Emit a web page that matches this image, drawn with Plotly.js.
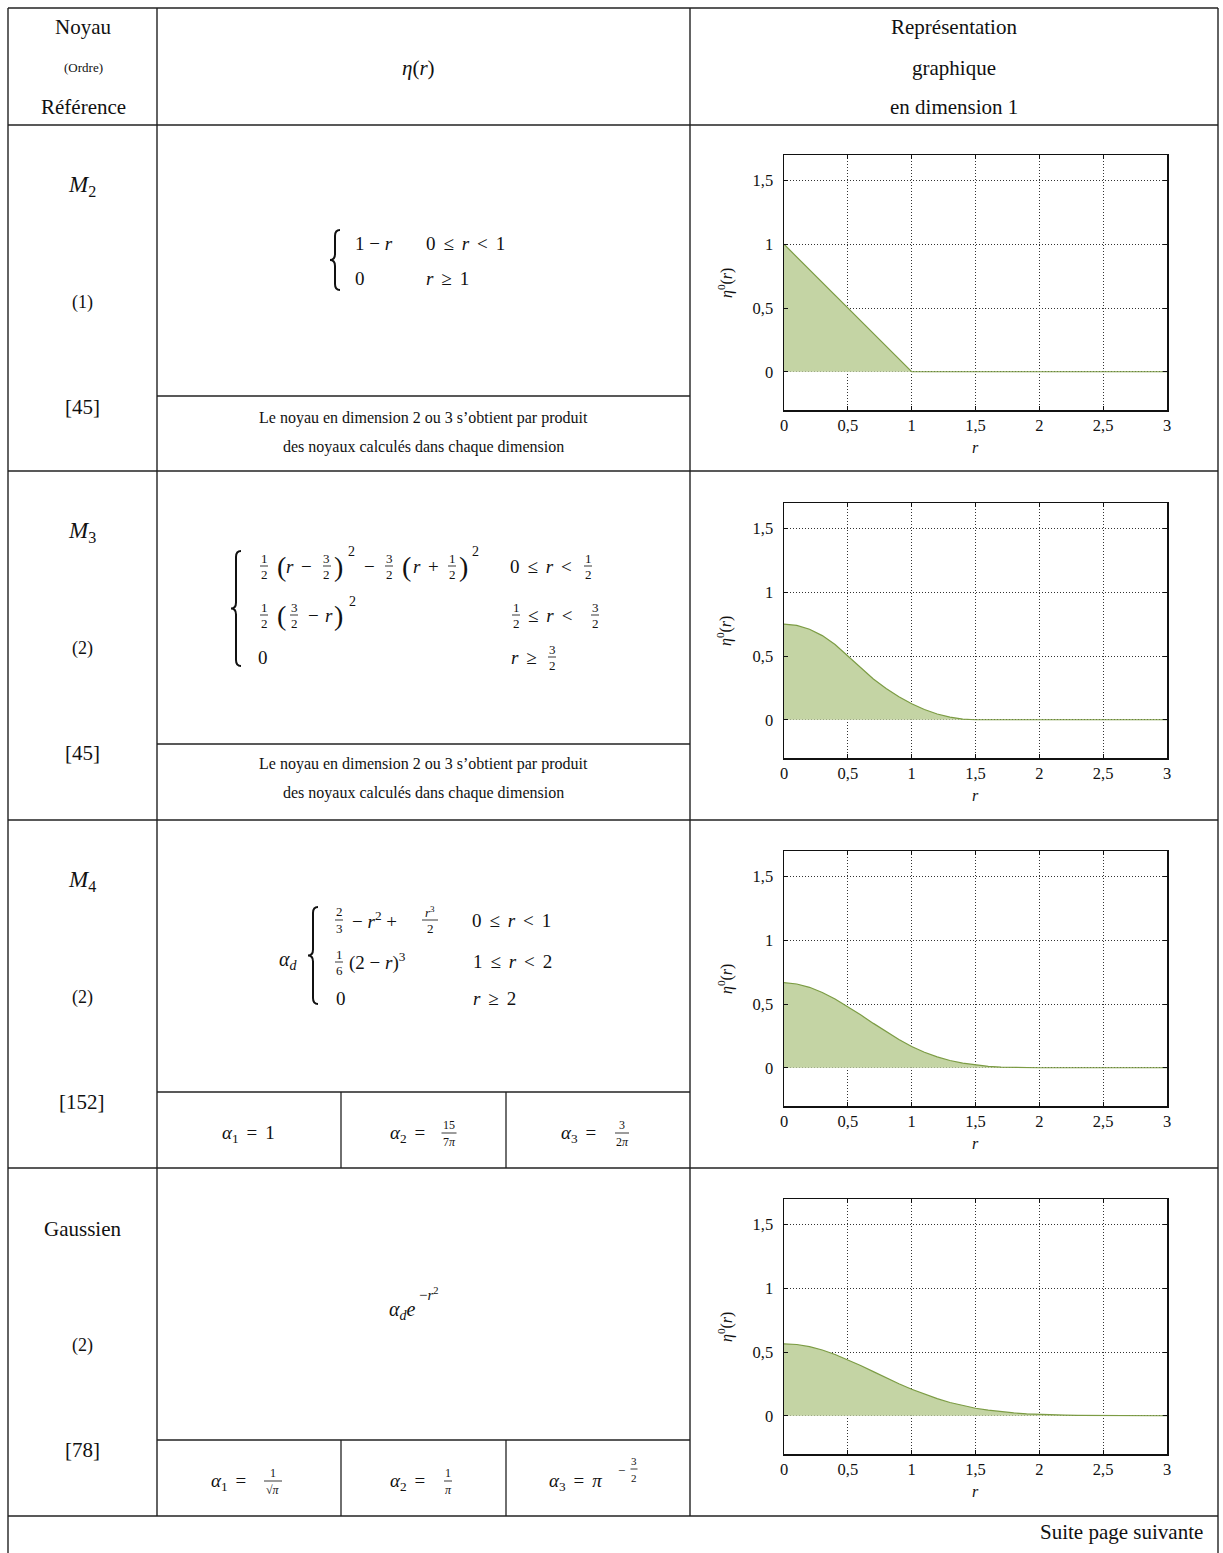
<!DOCTYPE html>
<html><head><meta charset="utf-8">
<script src="https://cdn.plot.ly/plotly-3.0.1.min.js"></script>
<style>html,body{margin:0;padding:0;background:#fff}</style>
</head><body><div id="chart" style="width:1223px;height:1553px"></div>
<script>
// ---- data ----
const r_M2 = [0, 1, 3];
const eta_M2 = [1, 0, 0];

const r_M3 = [0,0.1,0.2,0.3,0.4,0.5,0.6,0.7,0.8,0.9,1.0,1.1,1.2,1.3,1.4,1.5,3];
const eta_M3 = [0.75,0.74,0.71,0.66,0.59,0.5,0.405,0.32,0.245,0.18,0.125,0.08,0.045,0.02,0.005,0,0];

const r_M4 = [0,0.1,0.2,0.3,0.4,0.5,0.6,0.7,0.8,0.9,1.0,1.1,1.2,1.3,1.4,1.5,1.6,1.7,1.8,1.9,2.0,3];
const eta_M4 = [0.667,0.657,0.631,0.590,0.539,0.479,0.415,0.348,0.283,0.221,0.167,0.122,0.085,0.057,0.036,0.021,0.011,0.0045,0.0013,0.0002,0,0];

const r_G = [0,0.1,0.2,0.3,0.4,0.5,0.6,0.7,0.8,0.9,1.0,1.1,1.2,1.3,1.4,1.5,1.6,1.7,1.8,1.9,2.0,2.1,2.2,2.3,2.4,2.5,2.6,2.7,2.8,2.9,3.0];
const eta_G = [0.564,0.559,0.542,0.516,0.480,0.439,0.394,0.346,0.297,0.251,0.208,0.168,0.134,0.104,0.079,0.059,0.044,0.031,0.022,0.015,0.010,0.007,0.0045,0.0029,0.0018,0.0011,0.0007,0.0004,0.0002,0.0001,0.0001];

const xTickVals = [0,0.5,1,1.5,2,2.5,3];
const xTickText = ['0','0,5','1','1,5','2','2,5','3'];
const yTickVals = [0,0.5,1,1.5];
const yTickText = ['0','0,5','1','1,5'];

const kernelNames = ['<i>M</i><sub>2</sub>','<i>M</i><sub>3</sub>','<i>M</i><sub>4</sub>','Gaussien'];
const kernelOrders = ['(1)','(2)','(2)','(2)'];
const kernelRefs = ['[45]','[45]','[152]','[78]'];
const noteLines = ['Le noyau en dimension 2 ou 3 s’obtient par produit','des noyaux calculés dans chaque dimension'];

// ---- helpers ----
const W = 1223, H = 1553;
const SERIF = 'Liberation Serif, Times New Roman, serif';
const S = ' \u2006';           // relation spacing
const ann = [], shp = [];
function T(x, y, text, size, xa, extra) {
  ann.push(Object.assign({x: x / W, y: 1 - y / H, xref: 'paper', yref: 'paper', text: text, showarrow: false,
    xanchor: xa || 'center', yanchor: 'middle', font: {family: SERIF, size: size, color: '#111'}}, extra || {}));
}
function L(x0, y0, x1, y1, w) {
  shp.push({type: 'line', xref: 'paper', yref: 'paper', x0: x0 / W, y0: 1 - y0 / H, x1: x1 / W, y1: 1 - y1 / H,
    line: {color: '#222', width: w || 1.3}});
}
function F(xc, yc, num, den, size, w) {
  size = size || 13; w = w || 8;
  T(xc, yc - 8, num, size); T(xc, yc + 8.5, den, size);
  L(xc - w / 2, yc, xc + w / 2, yc, 0.9);
}
function P(X, Y) { return (X / W).toFixed(5) + ',' + (1 - Y / H).toFixed(5); }
function B(x, y0, y1) {
  const ym = (y0 + y1) / 2;
  const d = 'M' + P(x + 5, y0) + ' Q' + P(x, y0) + ' ' + P(x, y0 + 6) + ' L' + P(x, ym - 6) +
    ' Q' + P(x, ym) + ' ' + P(x - 5, ym) + ' Q' + P(x, ym) + ' ' + P(x, ym + 6) +
    ' L' + P(x, y1 - 6) + ' Q' + P(x, y1) + ' ' + P(x + 5, y1);
  shp.push({type: 'path', xref: 'paper', yref: 'paper', path: d, line: {color: '#111', width: 2}});
}
const MS = 19;   // math size

// ---- table grid ----
const XL = 8, XC1 = 157, XC2 = 690, XR = 1218;
const rowLines = [8, 125, 471, 820, 1168, 1516];
rowLines.forEach(y => L(XL, y, XR, y, 1.4));
L(XL, 8, XL, 1553, 1.4); L(XR, 8, XR, 1553, 1.4);
L(XC1, 8, XC1, 1516, 1.4); L(XC2, 8, XC2, 1516, 1.4);
[396, 744, 1092, 1440].forEach(y => L(XC1, y, XC2, y, 1.3));
[[1092, 1168], [1440, 1516]].forEach(p => { L(341, p[0], 341, p[1], 1.3); L(506, p[0], 506, p[1], 1.3); });

// ---- header ----
T(83, 27, 'Noyau', 21); T(83, 68, '(Ordre)', 13); T(83, 107, 'Référence', 21);
T(418, 68, '<i>η</i>(<i>r</i>)', 21);
T(954, 27, 'Représentation', 21); T(954, 68, 'graphique', 21); T(954, 107, 'en dimension 1', 21);

// ---- left column ----
const rowTop = [125, 471, 820, 1168];
rowTop.forEach((t, i) => {
  T(82, t + 61, kernelNames[i], i === 3 ? 21 : 23);
  T(82, t + 177, kernelOrders[i], 18);
  T(82, t + 282, kernelRefs[i], 21);
});
[0, 1].forEach(i => {
  T(423, rowTop[i] + 293, noteLines[0], 16);
  T(423, rowTop[i] + 322, noteLines[1], 16);
});

// ---- formula M2 ----
B(335, 230, 290);
T(353, 243, '1 − <i>r</i>', MS, 'left'); T(424, 243, '0' + S + '≤' + S + '<i>r</i>' + S + '<' + S + '1', MS, 'left');
T(353, 278, '0', MS, 'left'); T(424, 278, '<i>r</i>' + S + '≥' + S + '1', MS, 'left');

// ---- formula M3 ----
B(236, 551, 666);
let y = 566;
F(264, y, '1', '2'); T(281, y, '(', 28); T(290, y, '<i>r</i>', MS); T(306, y, '−', MS);
F(327, y, '3', '2'); T(338, y, ')', 28); T(351, y - 14, '2', 14);
T(369, y, '−', MS); F(389, y, '3', '2'); T(406, y, '(', 28); T(417, y, '<i>r</i>', MS);
T(433, y, '+', MS); F(452, y, '1', '2'); T(463, y, ')', 28); T(475, y - 14, '2', 14);
T(508, y, '0' + S + '≤' + S + '<i>r</i>' + S + '<', MS, 'left'); F(588, y, '1', '2');
y = 615;
F(264, y, '1', '2'); T(281, y, '(', 28); F(294, y, '3', '2'); T(313, y, '−', MS);
T(329, y, '<i>r</i>', MS); T(338, y, ')', 28); T(352, y - 14, '2', 14);
F(516, y, '1', '2'); T(526, y, '≤' + S + '<i>r</i>' + S + '<', MS, 'left'); F(595, y, '3', '2');
y = 657;
T(256, y, '0', MS, 'left'); T(509, y, '<i>r</i>' + S + '≥', MS, 'left'); F(552, y, '3', '2');

// ---- formula M4 ----
T(288, 961, '<i>α</i><sub><i>d</i></sub>', 20);
B(313, 907, 1004);
F(339, 920, '2', '3'); T(350, 920, '− <i>r</i><sup>2</sup> +', MS, 'left');
F(430, 920, '<i>r</i><sup>3</sup>', '2', 13, 16); T(470, 920, '0' + S + '≤' + S + '<i>r</i>' + S + '<' + S + '1', MS, 'left');
F(339, 962, '1', '6'); T(347, 962, '(2 − <i>r</i>)<sup>3</sup>', MS, 'left');
T(471, 962, '1' + S + '≤' + S + '<i>r</i>' + S + '<' + S + '2', MS, 'left');
T(334, 998, '0', MS, 'left'); T(471, 998, '<i>r</i>' + S + '≥' + S + '2', MS, 'left');

// ---- formula Gaussian ----
T(387, 1310, '<i>α</i><sub><i>d</i></sub><i>e</i>', 20, 'left');
T(417, 1294, '−<i>r</i><sup>2</sup>', 15, 'left');

// ---- alpha cells ----
T(248, 1134, '<i>α</i><sub>1</sub>' + S + '=' + S + '1', MS);
T(407, 1134, '<i>α</i><sub>2</sub>' + S + '=', MS); F(449, 1133, '15', '7<i>π</i>', 12, 15);
T(578, 1134, '<i>α</i><sub>3</sub>' + S + '=', MS); F(622, 1133, '3', '2<i>π</i>', 12, 14);
T(228, 1482, '<i>α</i><sub>1</sub>' + S + '=', MS); F(273, 1481, '1', '√<i>π</i>', 12, 18);
T(408, 1482, '<i>α</i><sub>2</sub>' + S + '=', MS); F(448, 1481, '1', '<i>π</i>', 12, 8);
T(575, 1482, '<i>α</i><sub>3</sub>' + S + '=' + S + '<i>π</i>', MS); T(621, 1470, '−', 13); F(634, 1469, '3', '2', 11, 7);

// ---- footer ----
T(1205, 1532, 'Suite page suivante', 21, 'right');

// ---- plots ----
const series = [[r_M2, eta_M2], [r_M3, eta_M3], [r_M4, eta_M4], [r_G, eta_G]];
const plotTops = [155, 503, 851, 1199];
const PH = 255, PX0 = 784, PX1 = 1167;
const traces = [];
const layout = {
  width: W, height: H, margin: {l: 0, r: 0, t: 0, b: 0}, showlegend: false,
  paper_bgcolor: '#fff', plot_bgcolor: '#fff', font: {family: SERIF, color: '#111'},
  annotations: ann, shapes: shp
};
series.forEach((s, i) => {
  const n = i === 0 ? '' : String(i + 1);
  traces.push({x: s[0], y: s[1], xaxis: 'x' + n, yaxis: 'y' + n, type: 'scatter', mode: 'lines',
    fill: 'tozeroy', fillcolor: '#c4d4a4', line: {color: '#7c9c44', width: 1.2}, hoverinfo: 'skip'});
  const common = {showgrid: true, griddash: '1px,2px', gridcolor: '#333', gridwidth: 1, showline: true,
    linecolor: '#111', linewidth: 1.5, mirror: 'ticks', ticks: 'inside', ticklen: 4, tickcolor: '#111',
    zeroline: false, tickfont: {family: SERIF, size: 16.5, color: '#111'}, fixedrange: true};
  layout['xaxis' + n] = Object.assign({}, common, {domain: [PX0 / W, PX1 / W], anchor: 'y' + n,
    range: [0, 3], tickmode: 'array', tickvals: xTickVals, ticktext: xTickText, ticklabelstandoff: 0});
  const t = plotTops[i];
  layout['yaxis' + n] = Object.assign({}, common, {domain: [1 - (t + PH) / H, 1 - t / H], anchor: 'x' + n,
    range: [-0.3, 1.7], tickmode: 'array', tickvals: yTickVals, ticktext: yTickText, ticklabelstandoff: 6});
  T(725, t + 128, '<i>η</i><sup>0</sup>(<i>r</i>)', 16, 'center', {textangle: -90});
  T(975, t + 292, '<i>r</i>', 16);
});

Plotly.newPlot('chart', traces, layout, {staticPlot: true});
</script></body></html>
